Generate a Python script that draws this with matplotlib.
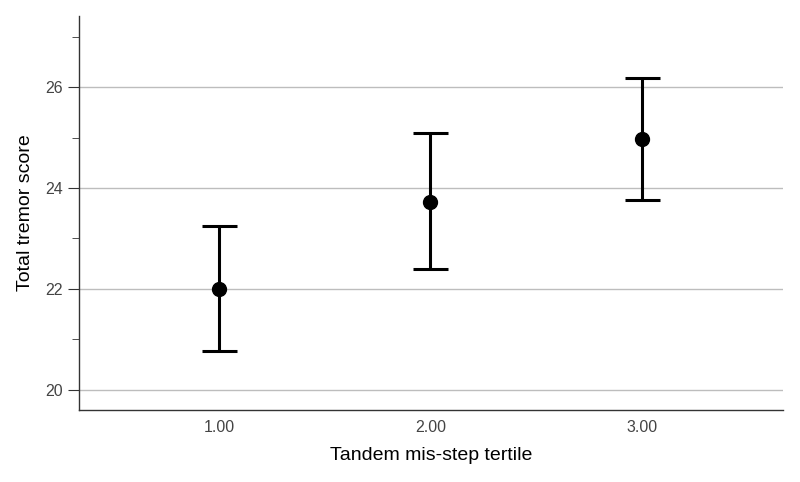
import matplotlib
matplotlib.use("Agg")
import matplotlib.pyplot as plt
from matplotlib.ticker import MultipleLocator

tertiles = [1.0, 2.0, 3.0]
tick_labels = ["1.00", "2.00", "3.00"]
means = [22.0, 23.73, 24.97]
upper = [23.24, 25.09, 26.18]
lower = [20.76, 22.40, 23.76]

plt.rcParams['font.family'] = ['Liberation Sans', 'DejaVu Sans']

fig = plt.figure(figsize=(8, 4.82), dpi=100)
ax = fig.add_axes([0.09875, 0.1494, 0.88, 0.8174])

yerr = [[m - l for m, l in zip(means, lower)], [u - m for m, u in zip(means, upper)]]
ax.errorbar(tertiles, means, yerr=yerr, fmt='o', color='black', ms=10,
            elinewidth=2.2, capsize=12.6, capthick=2.2, zorder=3)

ax.set_xlim(0.335, 3.67)
ax.set_ylim(19.6, 27.41)
ax.set_xticks(tertiles)
ax.set_xticklabels(tick_labels)
ax.yaxis.set_major_locator(MultipleLocator(2))
ax.yaxis.set_minor_locator(MultipleLocator(1))
ax.set_yticks([20, 22, 24, 26])
ax.grid(axis='y', which='major', color='#bdbdbd', linewidth=1)
ax.set_axisbelow(True)

for s in ['top', 'right']:
    ax.spines[s].set_visible(False)
for s in ['left', 'bottom']:
    ax.spines[s].set_color('#333333')
    ax.spines[s].set_linewidth(1)

ax.tick_params(axis='x', length=0, labelsize=11.5, labelcolor='#444444', pad=7)
ax.tick_params(axis='y', which='major', length=8, labelsize=11.5, labelcolor='#444444', color='#333333')
ax.tick_params(axis='y', which='minor', length=5, color='#333333')

ax.set_xlabel("Tandem mis-step tertile", fontsize=14, labelpad=9)
ax.set_ylabel("Total tremor score", fontsize=14, labelpad=8)

fig.savefig("out.png", dpi=100)
